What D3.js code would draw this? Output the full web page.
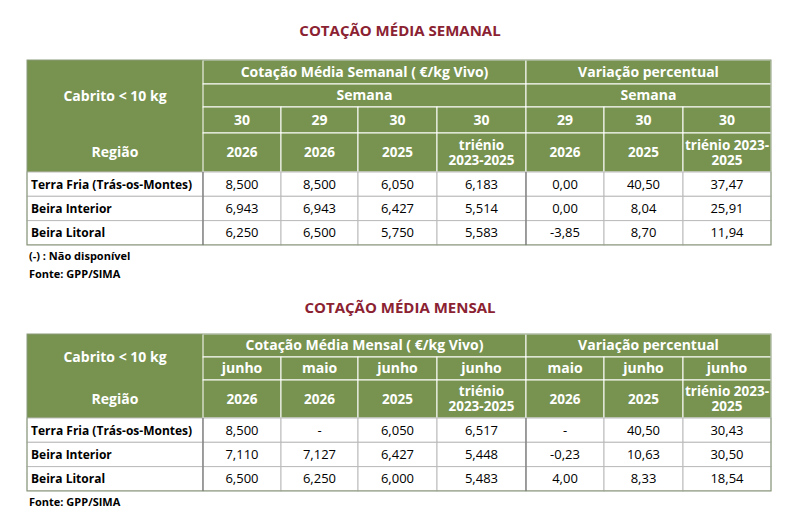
<!DOCTYPE html>
<html><head><meta charset="utf-8">
<script src="https://cdn.jsdelivr.net/npm/d3@7"></script>
<style>body{margin:0;background:#fff}text{font-family:"Open Sans","Liberation Sans",sans-serif}</style>
</head><body><svg></svg>
<script>
const regions = ["Terra Fria (Trás-os-Montes)", "Beira Interior", "Beira Litoral"];
const weekVals = [
  ["8,500", "8,500", "6,050", "6,183", "0,00", "40,50", "37,47"],
  ["6,943", "6,943", "6,427", "5,514", "0,00", "8,04", "25,91"],
  ["6,250", "6,500", "5,750", "5,583", "-3,85", "8,70", "11,94"]
];
const monthVals = [
  ["8,500", "-", "6,050", "6,517", "-", "40,50", "30,43"],
  ["7,110", "7,127", "6,427", "5,448", "-0,23", "10,63", "30,50"],
  ["6,500", "6,250", "6,000", "5,483", "4,00", "8,33", "18,54"]
];
const weekNums = ["30", "29", "30", "30", "29", "30", "30"];
const weekYears = ["2026", "2026", "2025", "triénio|2023-2025", "2026", "2025", "triénio 2023-|2025"];
const monthNames = ["junho", "maio", "junho", "junho", "maio", "junho", "junho"];
const monthYears = weekYears;

const green = "#77934f", red = "#8b2232";
const edges = [27, 203, 281, 358, 437, 526, 604, 683, 771];
const x = d3.scaleOrdinal().domain(d3.range(9)).range(edges);
const svg = d3.select("svg").attr("width", 802).attr("height", 530);

function txt(g, s, cx, cy, opt) {
  const lines = s.split("|");
  const t = g.append("text").attr("x", cx).attr("text-anchor", opt.anchor || "middle")
    .attr("font-size", opt.size || 13).attr("font-weight", opt.bold ? 700 : 400)
    .attr("fill", opt.fill || "#000");
  lines.forEach((l, i) => t.append("tspan").attr("x", cx)
    .attr("y", cy + (i - (lines.length - 1) / 2) * 15 + 4.5).text(l));
}
function cell(g, c0, c1, y0, y1, s, opt) {
  const x0 = x(c0), x1 = x(c1);
  g.append("rect").attr("x", x0).attr("y", y0).attr("width", x1 - x0).attr("height", y1 - y0)
    .attr("fill", opt.head ? green : "#fff").attr("stroke", opt.noStroke ? "none" : opt.head ? "#fff" : "#bbb");
  if (opt.left) txt(g, s, x0 + 4, (y0 + y1) / 2, Object.assign({anchor: "start"}, opt));
  else txt(g, s, (x0 + x1) / 2, (y0 + y1) / 2, Object.assign({fill: opt.head ? "#fff" : "#000"}, opt));
}

function table(cfg) {
  const g = svg.append("g");
  txt(g, cfg.title, 400, cfg.titleY, {bold: true, size: 15, fill: red});
  const r = cfg.rows;
  const H = {head: true, bold: true, size: 14};
  const L = Object.assign({noStroke: true}, H);
  cell(g, 0, 1, r[0], r[3], "Cabrito < 10 kg", L);
  cell(g, 0, 1, r[3], r[4], "Região", L);
  if (cfg.weekly) {
    cell(g, 1, 5, r[0], r[1], cfg.mainHead, H);
    cell(g, 5, 8, r[0], r[1], "Variação percentual", H);
    cell(g, 1, 5, r[1], r[2], "Semana", H);
    cell(g, 5, 8, r[1], r[2], "Semana", H);
  } else {
    cell(g, 1, 5, r[0], r[2], cfg.mainHead, H);
    cell(g, 5, 8, r[0], r[2], "Variação percentual", H);
  }
  cfg.sub.forEach((s, i) => cell(g, i + 1, i + 2, r[2], r[3], s, H));
  cfg.years.forEach((s, i) => cell(g, i + 1, i + 2, r[3], r[4], s, Object.assign({}, H, {size: 13.5})));
  regions.forEach((reg, j) => {
    const y0 = r[4] + j * 24.3, y1 = y0 + 24.3;
    cell(g, 0, 1, y0, y1, reg, {left: true, bold: true, size: 12});
    cfg.vals[j].forEach((v, i) => cell(g, i + 1, i + 2, y0, y1, v, {size: 13}));
  });
  const bot = r[4] + 3 * 24.3;
  g.append("rect").attr("x", edges[0]).attr("y", r[0]).attr("width", edges[8] - edges[0])
    .attr("height", bot - r[0]).attr("fill", "none").attr("stroke", "#8a9a7a");
  [1, 5].forEach(c => g.append("line").attr("x1", edges[c]).attr("x2", edges[c])
    .attr("y1", r[4]).attr("y2", bot).attr("stroke", "#666"));
  cfg.notes.forEach((n, i) => txt(g, n, 29, bot + 11 + i * 18, {anchor: "start", bold: true, size: 11}));
}

table({weekly: true, title: "COTAÇÃO MÉDIA SEMANAL", titleY: 31, mainHead: "Cotação Média Semanal ( €/kg Vivo)",
  rows: [60, 84, 107, 133, 172], sub: weekNums, years: weekYears, vals: weekVals,
  notes: ["(-) : Não disponível", "Fonte: GPP/SIMA"]});
table({weekly: false, title: "COTAÇÃO MÉDIA MENSAL", titleY: 308, mainHead: "Cotação Média Mensal ( €/kg Vivo)",
  rows: [334, 346, 357, 380, 418], sub: monthNames, years: monthYears, vals: monthVals,
  notes: ["Fonte: GPP/SIMA"]});
</script></body></html>
